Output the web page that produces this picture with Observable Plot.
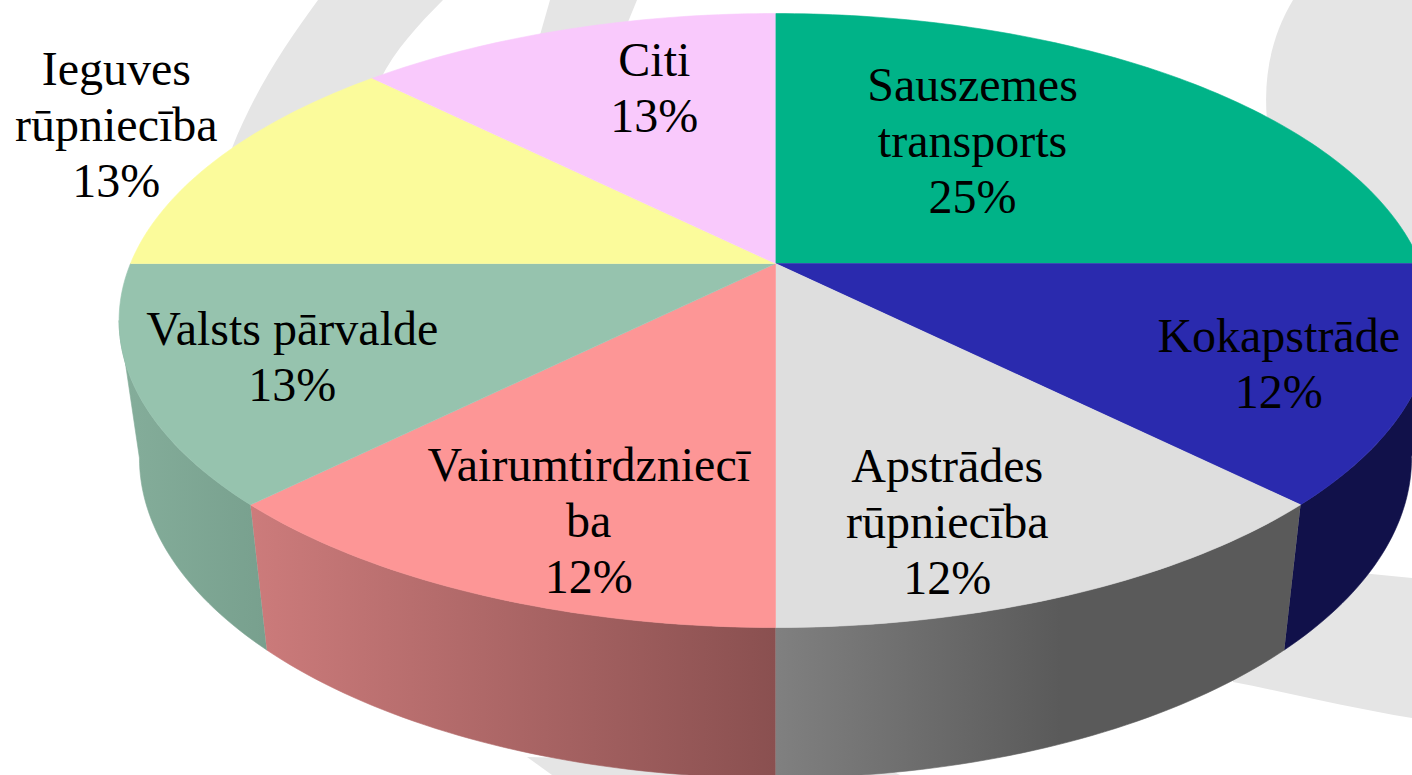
<!DOCTYPE html>
<html><head><meta charset="utf-8">
<script src="https://cdn.jsdelivr.net/npm/d3@7"></script>
<script src="https://cdn.jsdelivr.net/npm/@observablehq/plot@0.6"></script>
<style>
html,body{margin:0;padding:0;background:#fff;overflow:hidden}
#wrap{position:relative;width:1412px;height:775px}
#wrap svg{position:absolute;left:0;top:0}
</style></head><body><div id="wrap">
<svg width="1412" height="775" viewBox="0 0 1412 775" aria-hidden="true">
<g fill="#e5e5e5">
<path d="M318 0C285 45 255 90 232 148L380 80C395 50 418 25 443 0Z"/>
<path d="M550 0L540 35L628 22L637 0Z"/>
<path d="M1293 0C1272 35 1263 75 1267 120L1412 260V0Z"/>
<path d="M1230 560L1412 578V718C1350 708 1290 693 1233 682Z"/>
<path d="M527 757L552 775L900 775L880 765Z"/>
</g></svg>
<div id="chart"></div></div>
<script>
const categories = ["Sauszemes\ntransports","Kokapstrāde","Apstrādes\nrūpniecība","Vairumtirdzniecī\nba","Valsts pārvalde","Ieguves\nrūpniecība","Citi"];
const shares = [25,12.5,12.5,12.5,12.5,12.5,12.5];
const percentLabels = ["25%","12%","12%","12%","13%","13%","13%"];
const topColors = ["#00b388","#2a2aae","#dedede","#fd9696","#96c3ae","#fbfb9b","#f9c9fc"];

// perspective disc models
const k = -0.1857;
const topDisc = {cx:775, cy:263, a:296.4, b:645};
const lowDisc = {cx:775, cy:398, a:309, b:625};
const project = (d, deg, r=1) => {
  const t = deg*Math.PI/180, u = r*Math.sin(t), v = -r*Math.cos(t), w = 1+k*v;
  return {x:d.cx+d.b*u/w, y:d.cy+d.a*v/w};
};
const arc = (d, a0, a1) => {
  const n = Math.max(2, Math.ceil(Math.abs(a1-a0)));
  return d3.range(n+1).map(i => project(d, a0+(a1-a0)*i/n));
};
let acc = 0;
const slices = shares.map((s,i) => {
  const a0 = acc/100*360; acc += s; const a1 = acc/100*360;
  return {i, a0, a1, name:categories[i], label:categories[i]+"\n"+percentLabels[i], color:topColors[i]};
});
const tangent = 90 + Math.asin(-k)*180/Math.PI;
const topRows = slices.flatMap(s => [{...project(topDisc,0,0),id:s.i},...arc(topDisc,s.a0,s.a1).map(p=>({...p,id:s.i}))]);
const wallFill = ["#11114a","url(#gGray)","url(#gRed)","url(#gGreen)"];
const wallRows = slices.slice(1,5).flatMap((s,j) => {
  const a0 = Math.max(s.a0,tangent), a1 = Math.min(s.a1,360-tangent);
  return [...arc(topDisc,a0,a1),...arc(lowDisc,a1,a0)].map(p=>({...p,id:j}));
});
// label offsets from the slice's mid-radius anchor (layout only)
const labelOffset = [[-103,13],[51,13],[-31,32],[16,31],[-31,6],[-251,-63],[37,-2]];
const labelRows = slices.map((s,i) => {
  const p = project(topDisc,(s.a0+s.a1)/2,0.72);
  return {x:p.x+labelOffset[i][0], y:p.y+labelOffset[i][1], label:s.label};
});
const defs = () => {
  const svg = d3.create("svg:g");
  const d = svg.append("defs");
  const grad = (id,x1,x2,c1,c2) => {
    const g = d.append("linearGradient").attr("id",id).attr("gradientUnits","userSpaceOnUse")
      .attr("x1",x1).attr("x2",x2).attr("y1",0).attr("y2",0);
    g.append("stop").attr("offset",0).attr("stop-color",c1);
    g.append("stop").attr("offset",1).attr("stop-color",c2);
  };
  grad("gGray",775,1060,"#808080","#5a5a5a");
  grad("gRed",252,775,"#cc7b7b","#8a5050");
  grad("gGreen",125,265,"#84ad9a","#78a08e");
  return svg.node();
};
const plot = Plot.plot({
  width:1412,height:775,margin:0,
  x:{domain:[0,1412],range:[0,1412],axis:null},
  y:{domain:[0,775],range:[0,775],axis:null},
  style:{background:"transparent"},
  marks:[
    defs,
    ...wallFill.map((f,j)=>Plot.line(wallRows.filter(r=>r.id===j),{x:"x",y:"y",fill:f,stroke:f,strokeWidth:0.6,curve:"linear"})),
    ...slices.map(s=>Plot.line(topRows.filter(r=>r.id===s.i),{x:"x",y:"y",fill:s.color,stroke:s.color,strokeWidth:0.6,curve:"linear"})),
    Plot.text(labelRows,{x:"x",y:"y",text:"label",fontFamily:"'Liberation Serif'",fontSize:48,lineHeight:1.167,fill:"#000",textAnchor:"middle"})
  ]
});
document.getElementById("chart").appendChild(plot);
</script></body></html>
